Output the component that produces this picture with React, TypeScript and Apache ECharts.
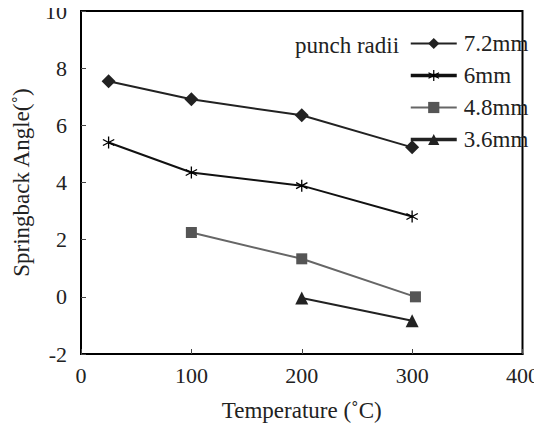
import React, { useEffect, useRef } from "react";
import * as echarts from "echarts";

const seriesNames = ["7.2mm", "6mm", "4.8mm", "3.6mm"];
const temps72 = [25, 100, 200, 300];
const vals72 = [7.54, 6.91, 6.35, 5.23];
const temps6 = [25, 100, 200, 300];
const vals6 = [5.4, 4.35, 3.89, 2.81];
const temps48 = [100, 200, 303];
const vals48 = [2.25, 1.33, 0.0];
const temps36 = [200, 300];
const vals36 = [-0.04, -0.84];

const STAR =
  "path://M9 0L11 0L11 20L9 20Z M0.84 5.87L1.84 4.13L19.16 14.13L18.16 15.87Z M1.84 15.87L0.84 14.13L18.16 4.13L19.16 5.87Z";

const FONT = "Liberation Serif";

function pairs(xs: number[], ys: number[]) {
  return xs.map((x, i) => [x, ys[i]]);
}

export default function App() {
  const ref = useRef<HTMLDivElement>(null);
  useEffect(() => {
    if (!ref.current) return;
    const chart = echarts.init(ref.current, undefined, { renderer: "svg" });
    chart.setOption({
      animation: false,
      backgroundColor: "#fff",
      grid: {
        left: 81,
        right: 18,
        top: 11,
        bottom: 78,
        show: true,
        borderColor: "#000",
        borderWidth: 2,
        backgroundColor: "transparent",
      },
      graphic: [
        {
          type: "text",
          left: 295,
          top: 34,
          style: { text: "punch radii", font: `23px "${FONT}"`, fill: "#222" },
        },
      ],
      legend: {
        orient: "vertical",
        left: 409,
        top: 32,
        padding: 0,
        itemWidth: 46,
        itemHeight: 14,
        itemGap: 9,
        textStyle: { fontFamily: FONT, fontSize: 23, color: "#222", padding: [0, 0, 0, 2] },
        data: [
          { name: seriesNames[0] },
          { name: seriesNames[1], lineStyle: { width: 3.5 } },
          { name: seriesNames[2] },
          { name: seriesNames[3], lineStyle: { width: 3.5 } },
        ],
      },
      xAxis: {
        type: "value",
        min: 0,
        max: 400,
        interval: 100,
        name: "Temperature (˚C)",
        nameLocation: "middle",
        nameGap: 45,
        nameTextStyle: { fontFamily: FONT, fontSize: 23, color: "#222" },
        axisLine: { show: true, onZero: false, lineStyle: { color: "#000", width: 2 } },
        axisTick: { show: true, inside: true, length: 5, lineStyle: { color: "#444", width: 1 } },
        axisLabel: { fontFamily: FONT, fontSize: 22, color: "#222", margin: 10 },
        splitLine: { show: false },
      },
      yAxis: {
        type: "value",
        min: -2,
        max: 10,
        interval: 2,
        name: "Springback Angle(˚)",
        nameLocation: "middle",
        nameGap: 48,
        nameTextStyle: { fontFamily: FONT, fontSize: 23, color: "#222" },
        axisLine: { show: true, onZero: false, lineStyle: { color: "#000", width: 2 } },
        axisTick: { show: true, inside: true, length: 5, lineStyle: { color: "#444", width: 1 } },
        axisLabel: { fontFamily: FONT, fontSize: 22, color: "#222", margin: 14 },
        splitLine: { show: false },
      },
      series: [
        {
          name: seriesNames[0],
          type: "line",
          data: pairs(temps72, vals72),
          symbol: "diamond",
          symbolSize: 14,
          color: "#222",
          lineStyle: { color: "#222", width: 2 },
          itemStyle: { color: "#222" },
        },
        {
          name: seriesNames[1],
          type: "line",
          data: pairs(temps6, vals6),
          symbol: STAR,
          symbolSize: 12,
          color: "#000",
          lineStyle: { color: "#111", width: 2 },
          itemStyle: { color: "#000" },
        },
        {
          name: seriesNames[2],
          type: "line",
          data: pairs(temps48, vals48),
          symbol: "rect",
          symbolSize: 11,
          color: "#555",
          lineStyle: { color: "#666", width: 2 },
          itemStyle: { color: "#555" },
        },
        {
          name: seriesNames[3],
          type: "line",
          data: pairs(temps36, vals36),
          symbol: "triangle",
          symbolSize: 13,
          color: "#222",
          lineStyle: { color: "#222", width: 2 },
          itemStyle: { color: "#222" },
        },
      ],
    });
    return () => chart.dispose();
  }, []);
  return <div ref={ref} style={{ width: 542, height: 432, margin: -8 }} />;
}
